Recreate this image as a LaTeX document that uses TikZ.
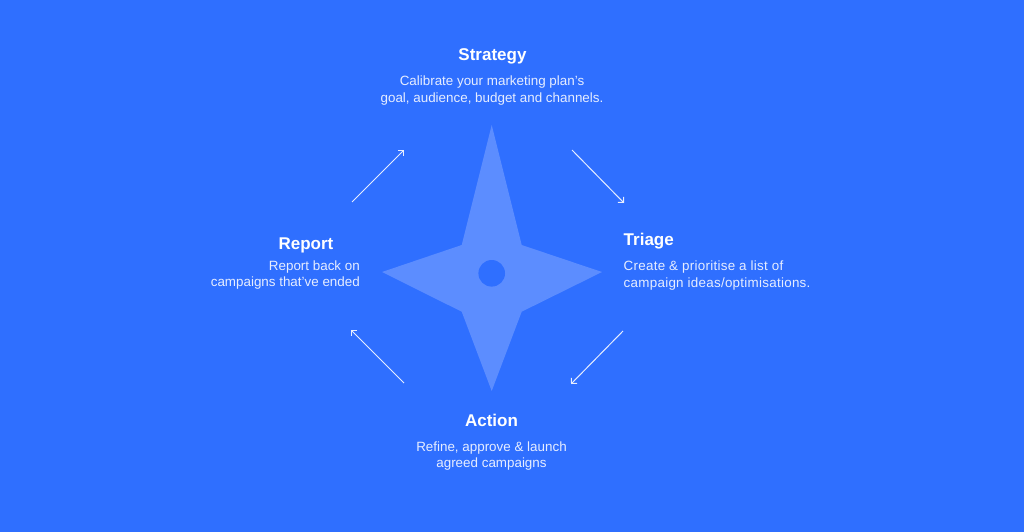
\documentclass[tikz,border=0pt]{standalone}
\usepackage{fontspec}
\setmainfont{Liberation Sans}
\usetikzlibrary{arrows.meta}
\definecolor{bgblue}{HTML}{2F6FFF}
\definecolor{starblue}{HTML}{5C8DFF}
\definecolor{bodywhite}{HTML}{E6EDFF}
\tikzset{
    title/.style={text=white, inner sep=0pt, font=\fontsize{17}{20}\selectfont\bfseries},
    body/.style={text=bodywhite, inner sep=0pt, font=\fontsize{13.4}{16.6}\selectfont},
    flow/.style={draw=bodywhite, line width=1pt, -{Straight Barb[length=4pt,width=8pt]}},
}
\begin{document}
\begin{tikzpicture}[x=1pt, y=-1pt]
    \fill[bgblue] (0,0) rectangle (1024,532);
    \useasboundingbox (0,0) rectangle (1024,532);
    % star
    \fill[starblue] (491.7,125) -- (521.7,245) -- (602,272) -- (521.7,311.7) -- (491.7,391)
        -- (461.7,311.7) -- (382,272) -- (461.7,245) -- cycle;
    \node[circle, fill=bgblue, inner sep=0pt, minimum size=26.6pt] (hub) at (491.7,273.3) {};
    % labels
    \node[title] (strategy) at (492.5,56.5) {Strategy};
    \node[body, align=center] (strategytext) at (492,90.8) {Calibrate your marketing plan’s\\goal, audience, budget and channels.};
    \node[title, anchor=west] (triage) at (623.5,241.5) {Triage};
    \node[body, anchor=west, align=left] (triagetext) at (623.5,275.3) {\addfontfeature{LetterSpace=2}Create \& prioritise a list of\\\addfontfeature{LetterSpace=2}campaign ideas/optimisations.};
    \node[title] (action) at (491.5,420.5) {Action};
    \node[body, align=center] (actiontext) at (491.5,456) {Refine, approve \& launch\\agreed campaigns};
    \node[title] (report) at (306,245.5) {Report};
    \node[body, anchor=east, align=right] (reporttext) at (360,275) {Report back on\hspace{3pt}\\campaigns that’ve ended};
    % arrows
    \coordinate (a1) at (352,202);
    \coordinate (a2) at (404,150);
    \coordinate (b1) at (572,150);
    \coordinate (b2) at (624,203);
    \coordinate (c1) at (623,331);
    \coordinate (c2) at (571,384);
    \coordinate (d1) at (404,383);
    \coordinate (d2) at (351,330);
    \draw[flow] (a1) -- (a2);
    \draw[flow] (b1) -- (b2);
    \draw[flow] (c1) -- (c2);
    \draw[flow] (d1) -- (d2);
\end{tikzpicture}
\end{document}
